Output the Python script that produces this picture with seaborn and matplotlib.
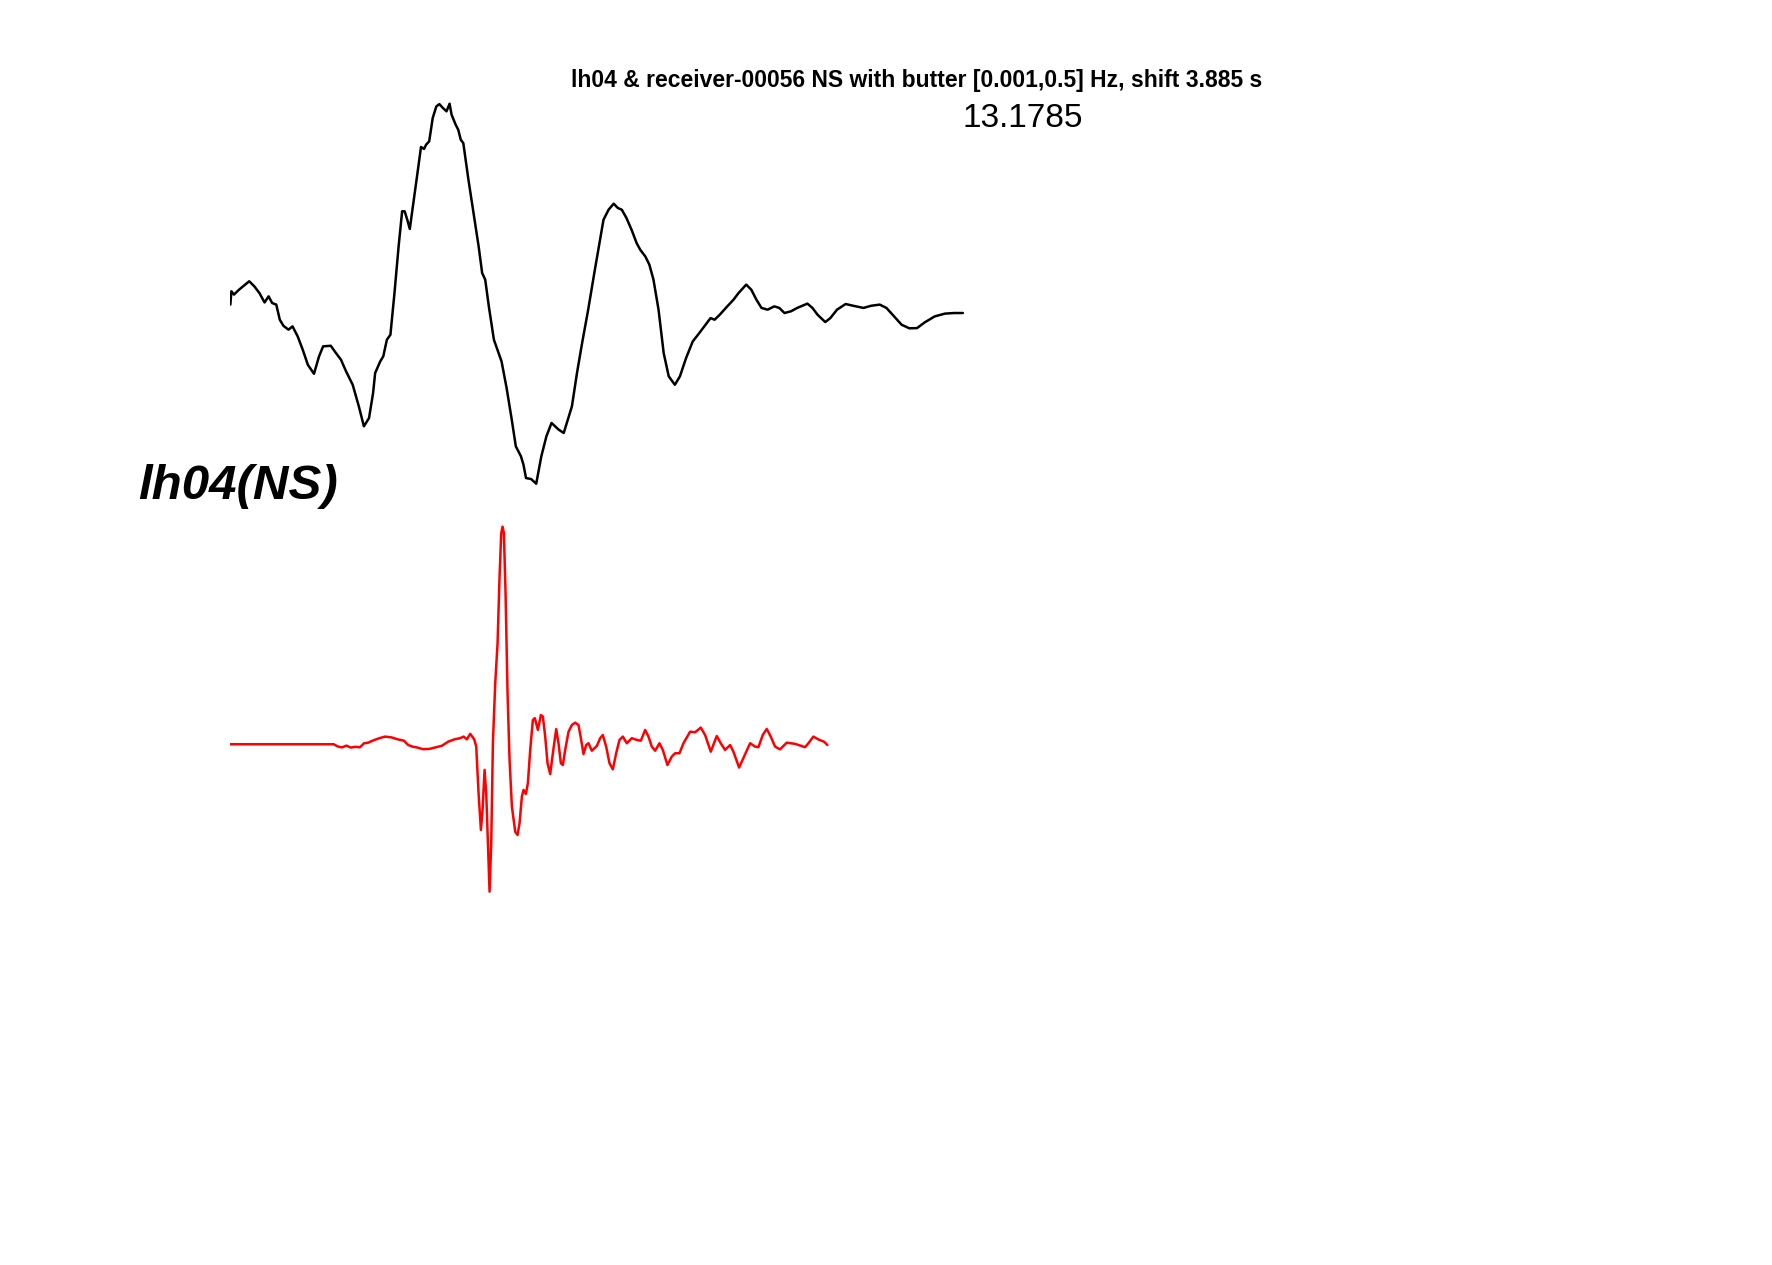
import numpy as np
import pandas as pd
import seaborn as sns
from matplotlib import pyplot as plt

# lh04 (observed, black) - time in s, normalized amplitude
obs_time = [0, 0.15, 0.54, 1.30, 2.83, 3.60, 4.36, 5.13, 5.74, 6.27, 6.89, 7.42, 7.96, 8.72,
            9.33, 10.10, 10.86, 11.63, 12.55, 13.31, 13.92, 15.07, 15.84, 16.60, 17.37, 18.36,
            19.28, 20.04, 20.81, 21.42, 21.73, 22.49, 22.95, 23.49, 24.02, 24.63, 25.25, 25.78,
            26.16, 26.55, 26.93, 27.54, 28.08, 28.61, 29.07, 29.38, 29.84, 30.37, 30.91, 31.37,
            31.90, 32.44, 32.90, 33.20, 33.81, 34.20, 34.58, 34.96, 35.73, 36.49, 37.26, 37.79,
            38.25, 38.79, 39.55, 40.70, 41.46, 42.23, 42.84, 43.61, 43.99, 44.37, 45.14, 45.90,
            46.67, 47.43, 48.20, 48.73, 49.27, 50.03, 50.49, 51.26, 52.02, 52.79, 53.70, 54.62,
            55.39, 56.00, 56.76, 57.53, 58.14, 58.75, 59.44, 60.21, 60.97, 61.51, 62.27, 62.88,
            63.50, 64.26, 65.03, 65.79, 66.71, 67.47, 68.39, 69.39, 70.38, 71.30, 72.06, 72.68,
            73.44, 74.36, 75.51, 76.27, 77.42, 78.18, 78.95, 79.71, 80.63, 81.63, 82.39, 83.16,
            84.15, 85.07, 86.60, 87.36, 88.13, 89.28, 90.04, 91.04, 92.34, 93.48, 95.01, 96.16,
            97.46, 98.46, 99.60, 100.75, 101.90, 103.05, 104.19, 105.72, 107.25, 108.63, 109.93]
obs_amp = [0.043, 0.111, 0.094, 0.119, 0.162, 0.136, 0.102, 0.054, 0.085, 0.051, 0.043, -0.034,
           -0.065, -0.085, -0.068, -0.119, -0.187, -0.264, -0.310, -0.221, -0.170, -0.167, -0.204,
           -0.238, -0.298, -0.366, -0.476, -0.578, -0.536, -0.408, -0.306, -0.247, -0.221, -0.136,
           -0.111, 0.102, 0.340, 0.519, 0.519, 0.476, 0.429, 0.578, 0.714, 0.847, 0.837, 0.859,
           0.876, 0.995, 1.054, 1.066, 1.046, 1.029, 1.068, 1.012, 0.961, 0.935, 0.884, 0.867,
           0.680, 0.510, 0.340, 0.204, 0.170, 0.034, -0.136, -0.247, -0.383, -0.544, -0.680,
           -0.731, -0.774, -0.842, -0.847, -0.871, -0.731, -0.629, -0.561, -0.578, -0.595, -0.612,
           -0.561, -0.476, -0.306, -0.153, 0.017, 0.204, 0.357, 0.476, 0.527, 0.558, 0.536, 0.527,
           0.485, 0.425, 0.357, 0.323, 0.289, 0.247, 0.170, 0.017, -0.204, -0.323, -0.366, -0.323,
           -0.230, -0.145, -0.102, -0.060, -0.026, -0.034, -0.009, 0.026, 0.068, 0.102, 0.145,
           0.119, 0.068, 0.026, 0.017, 0.034, 0.026, 0.0, 0.009, 0.026, 0.048, 0.026, -0.009,
           -0.046, -0.026, 0.017, 0.046, 0.037, 0.026, 0.037, 0.043, 0.026, -0.017, -0.060,
           -0.078, -0.077, -0.048, -0.017, -0.003, 0.0, 0.0]

# receiver-00056 (synthetic, red)
syn_time = [0, 15.52, 16.15, 16.78, 17.42, 18.05, 18.80, 19.43, 20.07, 20.70, 21.33, 22.28, 23.22,
            24.17, 25.11, 26.06, 26.69, 27.32, 27.95, 28.90, 29.85, 30.79, 31.74, 32.69, 33.63,
            34.5, 35.0, 35.5, 36.0, 36.6, 36.9, 37.25, 37.6, 37.85, 38.15, 38.4, 38.65, 38.9,
            39.15, 39.4, 39.75, 40.1, 40.4, 40.65, 40.85, 41.05, 41.3, 41.6, 41.9, 42.25, 42.75,
            43.1, 43.4, 43.75, 44.0, 44.35, 44.65, 45.0, 45.4, 45.7, 46.15, 46.6, 46.9, 47.25,
            47.6, 48.0, 48.4, 48.9, 49.25, 49.6, 49.9, 50.25, 50.75, 51.25, 51.75, 52.25, 52.65,
            53.0, 53.4, 53.75, 54.25, 55.0, 55.5, 55.9, 56.4, 56.9, 57.4, 57.9, 58.4, 58.9, 59.5,
            60.25, 61.0, 61.6, 62.25, 62.75, 63.25, 63.75, 64.4, 64.9, 65.6, 66.25, 66.75, 67.4,
            68.0, 69.0, 69.75, 70.6, 71.25, 72.1, 73.0, 73.6, 74.25, 75.0, 75.5, 76.35, 77.1,
            78.0, 78.75, 79.25, 79.9, 80.5, 81.1, 81.75, 82.5, 83.5, 84.75, 86.25, 86.75, 87.5,
            88.4, 89.1, 89.6]
syn_amp = [0, 0, -0.012, -0.016, -0.007, -0.017, -0.013, -0.016, 0.005, 0.008, 0.018, 0.030, 0.039,
           0.035, 0.025, 0.018, -0.004, -0.012, -0.016, -0.025, -0.024, -0.016, -0.008, 0.013,
           0.025, 0.031, 0.039, 0.025, 0.053, 0.025, -0.012, -0.250, -0.437, -0.335, -0.131,
           -0.250, -0.505, -0.752, -0.505, 0.005, 0.311, 0.515, 0.855, 1.077, 1.110, 1.077,
           0.770, 0.260, -0.080, -0.318, -0.446, -0.463, -0.403, -0.267, -0.233, -0.254, -0.199,
           -0.029, 0.124, 0.133, 0.073, 0.149, 0.141, 0.039, -0.097, -0.152, -0.046, 0.077,
           0.005, -0.097, -0.106, -0.029, 0.064, 0.098, 0.110, 0.098, 0.022, -0.050, -0.004,
           0.005, -0.033, -0.009, 0.031, 0.047, -0.012, -0.097, -0.128, -0.046, 0.022, 0.039,
           0.005, 0.031, 0.022, 0.018, 0.073, 0.039, -0.012, -0.033, 0.005, -0.029, -0.106,
           -0.063, -0.046, -0.046, 0.005, 0.064, 0.061, 0.085, 0.047, -0.038, 0.042, 0.005,
           -0.029, -0.004, -0.038, -0.119, -0.063, 0.005, -0.012, -0.015, 0.047, 0.078, 0.039,
           -0.012, -0.026, 0.008, 0.002, -0.015, 0.005, 0.039, 0.022, 0.013, -0.004]

station = "lh04"
receiver = "receiver-00056"
component = "NS"
band = "[0.001,0.5]"
shift = 3.885
misfit = 13.1785
obs_offset = 3.2
syn_offset = 1.0

sns.set_style("white")
plt.rcParams["font.family"] = ["Liberation Sans", "DejaVu Sans"]

fig = plt.figure(figsize=(17.72, 12.65), dpi=100)
ax = fig.add_axes([0.13, 0.11, 0.775, 0.815])

obs = pd.DataFrame({"t": obs_time, "y": np.array(obs_amp) + obs_offset})
syn = pd.DataFrame({"t": syn_time, "y": np.array(syn_amp) + syn_offset})
sns.lineplot(data=obs, x="t", y="y", color="black", lw=1.8, estimator=None, sort=False, ax=ax)
sns.lineplot(data=syn, x="t", y="y", color="red", lw=1.8, estimator=None, sort=False, ax=ax)

ax.set_xlim(0, 206.1)
ax.set_ylim(-0.947, 4.313)
ax.set_title(f"{station} & {receiver} {component} with butter {band} Hz, shift {shift} s",
             fontsize=16.5, fontweight="bold", color="black", pad=6)
ax.text(obs_time[-1], 4.193, f"{misfit}", fontsize=24, color="black", ha="left", va="center")
ax.text(-13.8, 2.313, f"{station}({component})", fontsize=35.5, fontweight="bold",
        fontstyle="italic", color="black", ha="left", va="center")
ax.axis("off")

fig.savefig("out.png", dpi=100)
